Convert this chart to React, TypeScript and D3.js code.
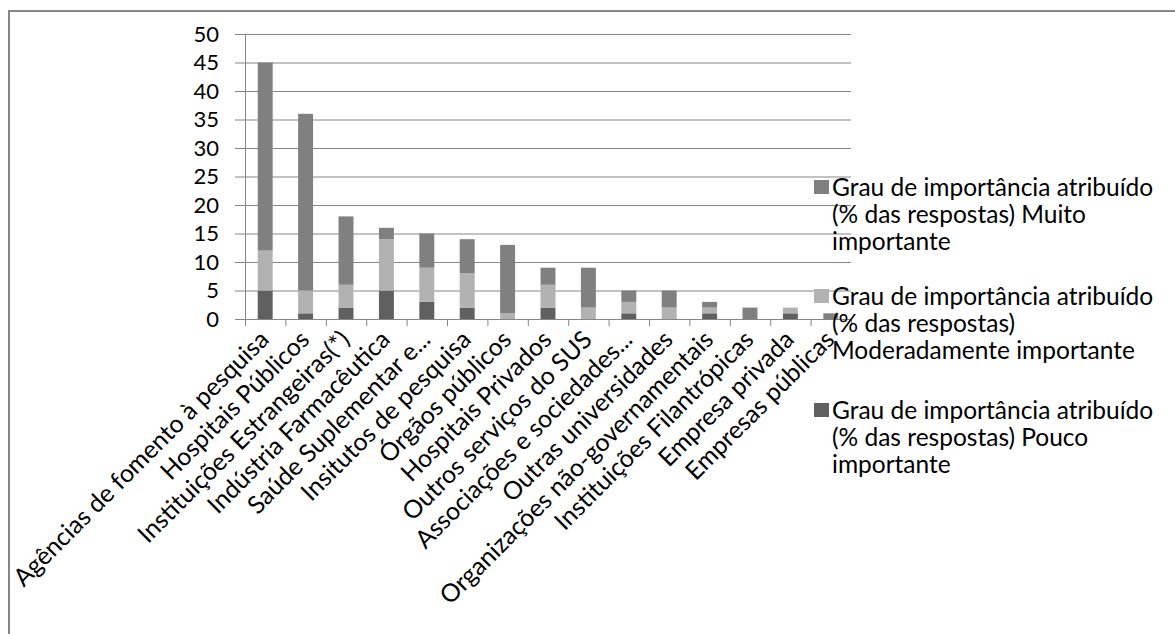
import React, { useEffect, useRef } from "react";
import * as d3 from "d3";

const categories = [
  "Agências de fomento à pesquisa",
  "Hospitais Públicos",
  "Instituições Estrangeiras(*)",
  "Indústria Farmacêutica",
  "Saúde Suplementar e...",
  "Insitutos de pesquisa",
  "Órgãos públicos",
  "Hospitais Privados",
  "Outros serviços do SUS",
  "Associações e sociedades...",
  "Outras universidades",
  "Organizações não-governamentais",
  "Instituições Filantrópicas",
  "Empresa privada",
  "Empresas públicas",
];

const pouco = [5, 1, 2, 5, 3, 2, 0, 2, 0, 1, 0, 1, 0, 1, 0];
const moderado = [7, 4, 4, 9, 6, 6, 1, 4, 2, 2, 2, 1, 0, 1, 0];
const muito = [33, 31, 12, 2, 6, 6, 12, 3, 7, 2, 3, 1, 2, 0, 1];

const yTicks = [0, 5, 10, 15, 20, 25, 30, 35, 40, 45, 50];

const seriesNames = [
  "Grau de importância atribuído (% das respostas) Pouco importante",
  "Grau de importância atribuído (% das respostas) Moderadamente importante",
  "Grau de importância atribuído (% das respostas) Muito importante",
];
const legendLines = [
  ["Grau de importância atribuído", "(% das respostas) Muito", "importante"],
  ["Grau de importância atribuído", "(% das respostas)", "Moderadamente importante"],
  ["Grau de importância atribuído", "(% das respostas) Pouco", "importante"],
];
const colors = ["#606060", "#b2b2b2", "#808080"];
const legendColors = ["#808080", "#b2b2b2", "#606060"];

const W = 1175;
const H = 634;
const FONT = "Lato, 'Open Sans', sans-serif";

export default function App() {
  const ref = useRef<SVGSVGElement>(null);

  useEffect(() => {
    const svg = d3.select(ref.current);
    svg.selectAll("*").remove();

    // chart frame
    svg
      .append("rect")
      .attr("x", 9)
      .attr("y", 11)
      .attr("width", 1250)
      .attr("height", 700)
      .attr("fill", "#fff")
      .attr("stroke", "#868686")
      .attr("stroke-width", 2);

    const left = 245;
    const right = 851;
    const top = 34;
    const bottom = 319;

    const x = d3.scaleBand<string>().domain(categories).range([left, right]).paddingInner(0.63).paddingOuter(0.315);
    const xTickScale = d3.scaleBand<string>().domain(categories).range([left, right]);
    const y = d3.scaleLinear().domain([0, 50]).range([bottom, top]);

    const g = svg.append("g");

    // horizontal gridlines
    g.selectAll("line.grid")
      .data(yTicks.filter((t) => t > 0))
      .join("line")
      .attr("x1", left)
      .attr("x2", right)
      .attr("y1", (d) => y(d) + 0.5)
      .attr("y2", (d) => y(d) + 0.5)
      .attr("stroke", "#868686")
      .attr("stroke-width", 1);

    // stacked bars
    const rows = categories.map((c, i) => ({ cat: c, pouco: pouco[i], moderado: moderado[i], muito: muito[i] }));
    const stack = d3.stack<any>().keys(["pouco", "moderado", "muito"]);
    const layers = stack(rows);
    layers.forEach((layer, li) => {
      g.selectAll(`rect.s${li}`)
        .data(layer)
        .join("rect")
        .attr("x", (d: any) => x(d.data.cat)!)
        .attr("width", x.bandwidth())
        .attr("y", (d) => y(d[1]))
        .attr("height", (d) => y(d[0]) - y(d[1]))
        .attr("fill", colors[li]);
    });

    // y axis
    g.append("line")
      .attr("x1", left + 0.5)
      .attr("x2", left + 0.5)
      .attr("y1", top)
      .attr("y2", bottom)
      .attr("stroke", "#868686");
    g.selectAll("line.ytick")
      .data(yTicks)
      .join("line")
      .attr("x1", left - 10)
      .attr("x2", left)
      .attr("y1", (d) => y(d) + 0.5)
      .attr("y2", (d) => y(d) + 0.5)
      .attr("stroke", "#868686");
    g.selectAll("text.ylab")
      .data(yTicks)
      .join("text")
      .attr("x", left - 26)
      .attr("y", (d) => y(d))
      .attr("dy", "0.35em")
      .attr("text-anchor", "end")
      .attr("font-family", FONT)
      .attr("font-size", 22)
      .attr("fill", "#000")
      .text((d) => String(d));

    // x axis
    g.append("line")
      .attr("x1", left)
      .attr("x2", right)
      .attr("y1", bottom + 0.5)
      .attr("y2", bottom + 0.5)
      .attr("stroke", "#868686");
    const bounds = categories.map((c) => xTickScale(c)!).concat([right]);
    g.selectAll("line.xtick")
      .data(bounds)
      .join("line")
      .attr("x1", (d) => d + 0.5)
      .attr("x2", (d) => d + 0.5)
      .attr("y1", bottom)
      .attr("y2", bottom + 7)
      .attr("stroke", "#868686");
    g.selectAll("text.xlab")
      .data(categories)
      .join("text")
      .attr("transform", (d) => `translate(${xTickScale(d)! + xTickScale.bandwidth() / 2 - 1},${bottom + 16}) rotate(-45)`)
      .attr("text-anchor", "end")
      .attr("dy", "0.35em")
      .attr("font-family", FONT)
      .attr("font-size", 24.8)
      .attr("fill", "#000")
      .text((d) => d);

    // legend
    const lg = svg.append("g").attr("aria-label", seriesNames.join("; "));
    const itemTop = [187, 296, 410];
    legendLines.forEach((lines, i) => {
      lg.append("rect")
        .attr("x", 814)
        .attr("y", itemTop[i] - 7)
        .attr("width", 15)
        .attr("height", 14)
        .attr("fill", legendColors[i]);
      lines.forEach((t, k) => {
        lg.append("text")
          .attr("x", 832)
          .attr("y", itemTop[i] + k * 27)
          .attr("dy", "0.35em")
          .attr("font-family", FONT)
          .attr("font-size", 24.5)
          .attr("fill", "#000")
          .text(t);
      });
    });
  }, []);

  return (
    <svg
      ref={ref}
      width={W}
      height={H}
      style={{ position: "fixed", left: 0, top: 0, background: "#fff" }}
    />
  );
}
